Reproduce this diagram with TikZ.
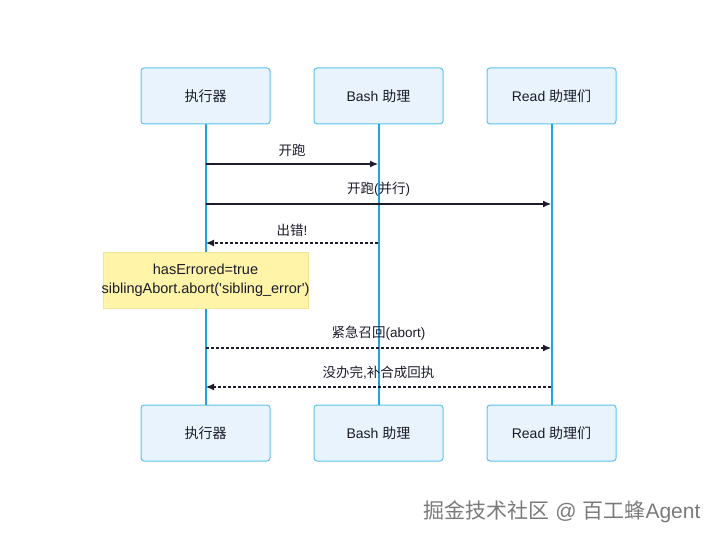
\documentclass[tikz,border=0pt]{standalone}
\usepackage{fontspec}
\setmainfont{Liberation Sans}
\newfontfamily\cjk{Noto Sans CJK SC}
\usetikzlibrary{arrows.meta}
\definecolor{boxfill}{HTML}{E8F3FD}
\definecolor{boxline}{HTML}{5CC3EC}
\definecolor{lifeline}{HTML}{1FA3E2}
\definecolor{arrowc}{HTML}{1B1B2B}
\definecolor{notefill}{HTML}{FFF4A8}
\definecolor{noteline}{HTML}{F2E59A}
\definecolor{wm}{HTML}{7A7A7A}
\tikzset{
  actor/.style={draw=boxline, fill=boxfill, line width=1pt, rounded corners=3pt,
    minimum width=129pt, minimum height=56pt, inner sep=0pt, font=\fontsize{14}{16}\selectfont, text=arrowc},
  life/.style={draw=lifeline, line width=2pt},
  msg/.style={draw=arrowc, line width=1.1pt, -{Latex[length=8pt,width=7pt]}},
  reply/.style={msg, dash pattern=on 3pt off 2pt},
  lbl/.style={font=\fontsize{13.5}{16}\selectfont, text=arrowc, inner sep=0pt},
  note/.style={draw=noteline, fill=notefill, line width=0.8pt, minimum width=205pt,
    minimum height=56pt, inner sep=0pt},
  notetext/.style={align=center, inner sep=0pt, font=\fontsize{14.5}{19}\selectfont, text=arrowc},
}
\begin{document}
\begin{tikzpicture}[x=1pt,y=-1pt]
\useasboundingbox (0,0) rectangle (720,540);
% top actors
\node[actor] (a1) at (205.5,96) {\cjk 执行器};
\node[actor] (a2) at (378.5,96) {Bash {\cjk 助理}};
\node[actor] (a3) at (551.5,96) {Read {\cjk 助理们}};
% bottom actors
\node[actor] (b1) at (205.5,433) {\cjk 执行器};
\node[actor] (b2) at (378.5,433) {Bash {\cjk 助理}};
\node[actor] (b3) at (551.5,433) {Read {\cjk 助理们}};
% lifelines
\draw[life] (a1.south) -- (b1.north);
\draw[life] (a2.south) -- (b2.north);
\draw[life] (a3.south) -- (b3.north);
% message points
\coordinate (m1s) at (206,164); \coordinate (m1e) at (378,164);
\coordinate (m2s) at (206,204); \coordinate (m2e) at (551,204);
\coordinate (m3s) at (378,243); \coordinate (m3e) at (206,243);
\coordinate (m4s) at (206,348); \coordinate (m4e) at (551,348);
\coordinate (m5s) at (551,387); \coordinate (m5e) at (206,387);
\draw[msg] (m1s) -- (m1e);
\node[lbl] (l1) at (292,150) {\cjk 开跑};
\draw[msg] (m2s) -- (m2e);
\node[lbl] (l2) at (378.5,189) {{\cjk 开跑}({\cjk 并行})};
\draw[reply] (m3s) -- (m3e);
\node[lbl] (l3) at (292,230) {{\cjk 出错}!};
% note
\node[note] (n1) at (205.5,280) {};
\node[notetext] (n1t) at (n1.center) {hasErrored=true\\siblingAbort.abort(\textquotesingle sibling\_error\textquotesingle)};
\draw[reply] (m4s) -- (m4e);
\node[lbl] (l4) at (378.5,333) {{\cjk 紧急召回}(abort)};
\draw[reply] (m5s) -- (m5e);
\node[lbl] (l5) at (378.5,373) {{\cjk 没办完},{\cjk 补合成回执}};
% watermark
\node[font=\fontsize{21}{24}\selectfont, text=wm, inner sep=0pt] (wmk) at (562,512) {{\cjk 掘金技术社区} @ {\cjk 百工蜂}Agent};
\end{tikzpicture}
\end{document}
